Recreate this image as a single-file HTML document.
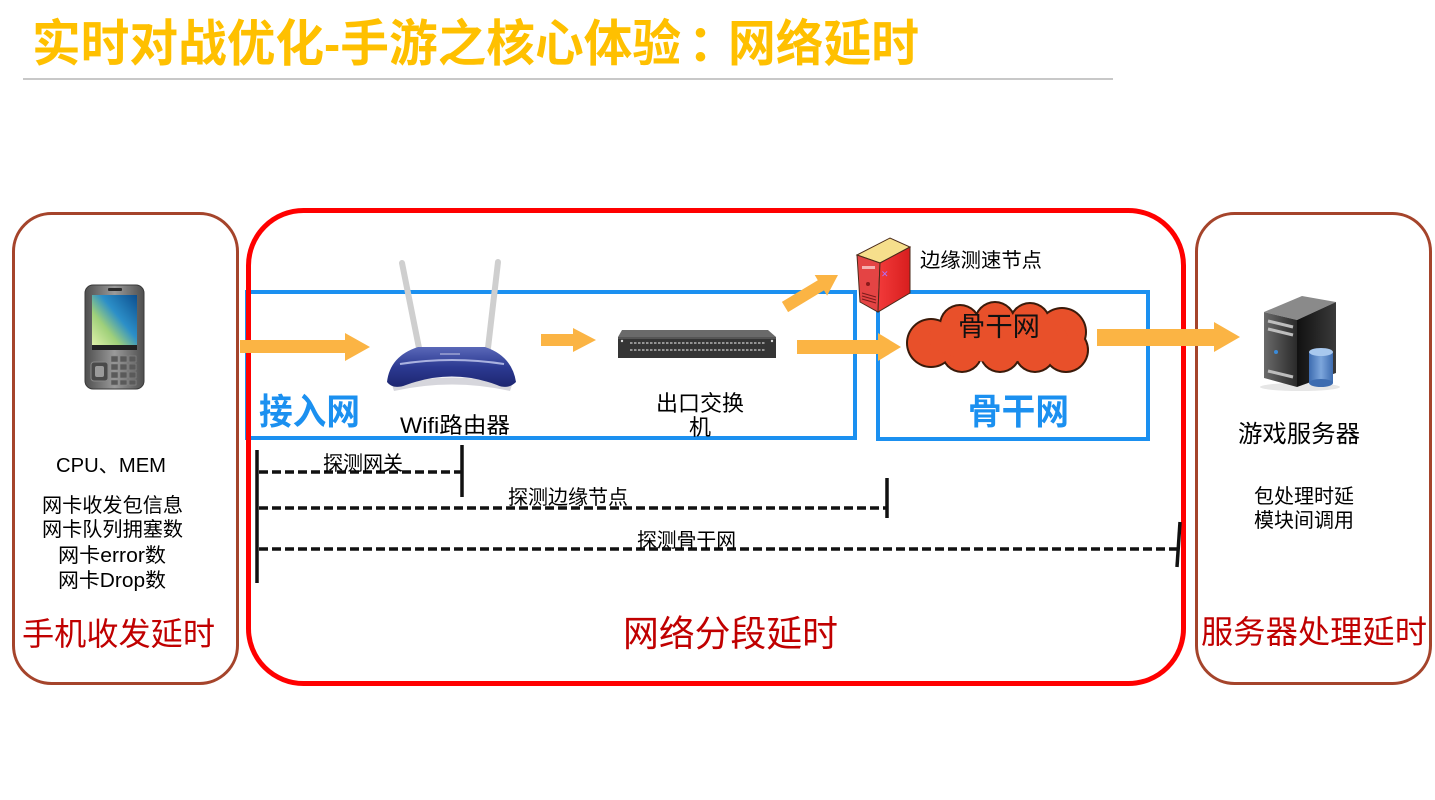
<!DOCTYPE html>
<html><head><meta charset="utf-8"><style>
html,body{margin:0;padding:0;background:#fff;}
svg{display:block;}
text{font-family:"Liberation Sans","Noto Sans CJK SC",sans-serif;}
</style></head><body>
<svg width="1435" height="800" viewBox="0 0 1435 800" xmlns="http://www.w3.org/2000/svg">
<defs>
<linearGradient id="phoneG" x1="0" x2="1" y1="0" y2="0"><stop offset="0" stop-color="#4e4e4e"/><stop offset="0.5" stop-color="#9a9a9a"/><stop offset="1" stop-color="#4e4e4e"/></linearGradient>
<linearGradient id="scr" x1="0" y1="1" x2="1" y2="0"><stop offset="0" stop-color="#e8f5b0"/><stop offset="0.35" stop-color="#9fd07a"/><stop offset="0.6" stop-color="#2c8fc8"/><stop offset="1" stop-color="#0d4f8f"/></linearGradient>
<linearGradient id="rtr" x1="0" y1="0" x2="0" y2="1"><stop offset="0" stop-color="#5a68b8"/><stop offset="0.5" stop-color="#2c3a92"/><stop offset="1" stop-color="#1d2670"/></linearGradient>
<linearGradient id="srvS" x1="0" y1="0" x2="1" y2="0"><stop offset="0" stop-color="#111"/><stop offset="1" stop-color="#3a3a3a"/></linearGradient>
<linearGradient id="srvF" x1="0" y1="0" x2="1" y2="0"><stop offset="0" stop-color="#6a6a6a"/><stop offset="1" stop-color="#2a2a2a"/></linearGradient>
<linearGradient id="cyl" x1="0" y1="0" x2="1" y2="0"><stop offset="0" stop-color="#3d6cb0"/><stop offset="0.5" stop-color="#7da6dc"/><stop offset="1" stop-color="#3d6cb0"/></linearGradient>
<linearGradient id="esR" x1="0" y1="0" x2="1" y2="0"><stop offset="0" stop-color="#f23a3a"/><stop offset="1" stop-color="#d81e1e"/></linearGradient>
</defs>
<rect width="1435" height="800" fill="#fff"/>

<!-- title -->
<text x="32" y="61" font-size="50" font-weight="bold" fill="#FFC000" textLength="649" lengthAdjust="spacingAndGlyphs">实时对战优化-手游之核心体验</text>
<text x="688" y="61" font-size="50" font-weight="bold" fill="#FFC000">：</text>
<text x="728" y="61" font-size="50" font-weight="bold" fill="#FFC000" textLength="191" lengthAdjust="spacingAndGlyphs">网络延时</text>
<rect x="23" y="78" width="1090" height="2" fill="#C8C8C8"/>

<!-- outer boxes -->
<rect x="13.5" y="213.5" width="224" height="470" rx="38" fill="none" stroke="#A5442B" stroke-width="3"/>
<rect x="1196.5" y="213.5" width="234" height="470" rx="38" fill="none" stroke="#A5442B" stroke-width="3"/>

<!-- blue boxes -->
<rect x="247" y="292" width="608" height="146" fill="none" stroke="#1B90F0" stroke-width="4"/>
<rect x="878" y="292" width="270" height="147" fill="none" stroke="#1B90F0" stroke-width="4"/>

<!-- red box -->
<rect x="248.5" y="210.5" width="935" height="473" rx="55" fill="none" stroke="#FF0000" stroke-width="5"/>

<!-- arrows -->
<g fill="#FBB444">
<polygon points="240,340 345,340 345,333 370,347 345,361 345,353 240,353"/>
<polygon points="541,334 573,334 573,328 596,340 573,352 573,346 541,346"/>
<polygon points="797,340 878,340 878,333 901,347 878,361 878,354 797,354"/>
<polygon points="1097,329 1214,329 1214,322 1240,337 1214,352 1214,346 1097,346"/>
<polygon points="781.9,301.9 817.8,280.2 814.7,275.0 838,275 827.1,295.6 824.0,290.4 788.1,312.1"/>
</g>

<!-- phone -->
<rect x="85" y="285" width="59" height="104" rx="8" fill="url(#phoneG)" stroke="#3a3a3a" stroke-width="1"/>
<rect x="108" y="288" width="14" height="3" rx="1" fill="#2a2a2a"/>
<rect x="92" y="295" width="45" height="55" fill="url(#scr)"/>
<rect x="92" y="345" width="45" height="5" fill="#222"/>
<rect x="91" y="362" width="17" height="19" rx="3" fill="#4a4a4a" stroke="#888" stroke-width="1"/>
<rect x="95" y="366" width="9" height="11" rx="2" fill="#9a9a9a"/>
<g fill="#5a5a5a" stroke="#8a8a8a" stroke-width="0.6">
<rect x="111" y="356" width="7" height="6"/><rect x="120" y="356" width="7" height="6"/><rect x="129" y="356" width="7" height="6"/>
<rect x="111" y="364" width="7" height="6"/><rect x="120" y="364" width="7" height="6"/><rect x="129" y="364" width="7" height="6"/>
<rect x="111" y="372" width="7" height="6"/><rect x="120" y="372" width="7" height="6"/><rect x="129" y="372" width="7" height="6"/>
<rect x="111" y="380" width="7" height="5"/><rect x="120" y="380" width="7" height="5"/><rect x="129" y="380" width="7" height="5"/>
</g>

<!-- router -->
<line x1="402" y1="263" x2="419" y2="348" stroke="#cfcfcf" stroke-width="6" stroke-linecap="round"/>
<line x1="498" y1="262" x2="488" y2="348" stroke="#cfcfcf" stroke-width="6" stroke-linecap="round"/>
<path d="M392,385 Q452,370 512,385 L510,391 Q452,378 394,391 Z" fill="#d6d6dc"/>
<path d="M387,382 Q390,356 418,347 L485,347 Q512,356 516,382 Q508,390 497,385 Q452,368 406,385 Q393,390 387,382 Z" fill="url(#rtr)"/>
<path d="M400,364 Q452,356 504,364" fill="none" stroke="#aab2e0" stroke-width="2"/>
<rect x="440" y="353" width="20" height="2" fill="#8890c8"/>

<!-- switch -->
<polygon points="622,330 768,330 776,337 618,337" fill="#6a6a6a"/>
<rect x="618" y="337" width="158" height="21" fill="#353535"/>
<rect x="618" y="337" width="158" height="2" fill="#555"/>
<g stroke="#cfcfcf" stroke-width="1.3" stroke-dasharray="2.5 1.5">
<line x1="630" y1="343" x2="765" y2="343"/>
<line x1="630" y1="350" x2="765" y2="350"/>
</g>
<circle cx="622" cy="341" r="1.2" fill="#ddd"/><circle cx="772" cy="341" r="1.2" fill="#ddd"/>

<!-- edge server -->
<polygon points="857,255 890,238 910,247 880,263" fill="#F6DF8C" stroke="#4a2a1a" stroke-width="1"/>
<polygon points="857,255 880,263 878,312 860,302" fill="#E44444" stroke="#4a2a1a" stroke-width="1"/>
<polygon points="880,263 910,247 910,293 878,312" fill="url(#esR)" stroke="#4a2a1a" stroke-width="1"/>
<rect x="862" y="266" width="13" height="3" fill="#f5b0b0"/>
<circle cx="868" cy="284" r="2" fill="#8a1a1a"/>
<g stroke="#7a1a1a" stroke-width="1"><line x1="862" y1="293" x2="876" y2="297"/><line x1="862" y1="296" x2="876" y2="300"/><line x1="862" y1="299" x2="876" y2="303"/></g>
<text x="881" y="277" font-size="9" fill="#b070ff">✕</text>

<!-- cloud -->
<g fill="#3a1a0a">
<circle cx="995" cy="322" r="21"/><circle cx="960" cy="325" r="21"/><circle cx="1030" cy="323" r="21"/>
<circle cx="1062" cy="332" r="25"/><circle cx="1066" cy="350" r="23"/><circle cx="1035" cy="352" r="21"/>
<circle cx="1000" cy="352" r="21"/><circle cx="962" cy="352" r="21"/><circle cx="931" cy="343" r="25"/>
</g>
<g fill="#E8502A">
<circle cx="995" cy="322" r="19"/><circle cx="960" cy="325" r="19"/><circle cx="1030" cy="323" r="19"/>
<circle cx="1062" cy="332" r="23"/><circle cx="1066" cy="350" r="21"/><circle cx="1035" cy="352" r="19"/>
<circle cx="1000" cy="352" r="19"/><circle cx="962" cy="352" r="19"/><circle cx="931" cy="343" r="23"/>
<ellipse cx="998" cy="338" rx="70" ry="24"/>
</g>
<text x="958" y="336" font-size="27" fill="#111" textLength="82" lengthAdjust="spacingAndGlyphs">骨干网</text>

<!-- game server -->
<ellipse cx="1300" cy="387" rx="40" ry="4" fill="#e6e6e6"/>
<polygon points="1264,312 1302,296 1336,302 1297,320" fill="#8a8a8a"/>
<polygon points="1264,312 1297,320 1297,387 1264,378" fill="url(#srvF)"/>
<polygon points="1297,320 1336,302 1336,373 1297,387" fill="url(#srvS)"/>
<g stroke="#bdbdbd" stroke-width="3"><line x1="1268" y1="321" x2="1293" y2="327"/><line x1="1268" y1="329" x2="1293" y2="335"/><line x1="1268" y1="371" x2="1293" y2="377"/></g>
<circle cx="1276" cy="352" r="2" fill="#3a8ad8"/>
<rect x="1309" y="352" width="24" height="31" fill="url(#cyl)"/>
<ellipse cx="1321" cy="383" rx="12" ry="4" fill="#3d6cb0"/>
<ellipse cx="1321" cy="352" rx="12" ry="4" fill="#a8c8ee"/>

<!-- labels -->
<text x="259" y="424" font-size="36" font-weight="bold" fill="#1B90F0" textLength="101" lengthAdjust="spacingAndGlyphs">接入网</text>
<text x="400" y="433" font-size="22" fill="#000" textLength="110" lengthAdjust="spacingAndGlyphs">Wifi路由器</text>
<text x="656" y="411" font-size="22" fill="#000" textLength="88" lengthAdjust="spacingAndGlyphs">出口交换</text>
<text x="700" y="435" font-size="22" fill="#000" text-anchor="middle">机</text>
<text x="920" y="267" font-size="20" fill="#000" textLength="122" lengthAdjust="spacingAndGlyphs">边缘测速节点</text>
<text x="968" y="424" font-size="36" font-weight="bold" fill="#1B90F0" textLength="101" lengthAdjust="spacingAndGlyphs">骨干网</text>
<text x="1238" y="442" font-size="24" fill="#000" textLength="122" lengthAdjust="spacingAndGlyphs">游戏服务器</text>
<text x="1254" y="503" font-size="20" fill="#000" textLength="100" lengthAdjust="spacingAndGlyphs">包处理时延</text>
<text x="1254" y="527" font-size="20" fill="#000" textLength="100" lengthAdjust="spacingAndGlyphs">模块间调用</text>

<text x="56" y="472" font-size="20" fill="#000" textLength="110" lengthAdjust="spacingAndGlyphs">CPU、MEM</text>
<text x="42" y="512" font-size="20" fill="#000" textLength="141" lengthAdjust="spacingAndGlyphs">网卡收发包信息</text>
<text x="42" y="536" font-size="20" fill="#000" textLength="141" lengthAdjust="spacingAndGlyphs">网卡队列拥塞数</text>
<text x="58" y="562" font-size="20" fill="#000" textLength="108" lengthAdjust="spacingAndGlyphs">网卡error数</text>
<text x="58" y="587" font-size="20" fill="#000" textLength="108" lengthAdjust="spacingAndGlyphs">网卡Drop数</text>

<text x="22" y="645" font-size="32" fill="#C00000" textLength="193" lengthAdjust="spacingAndGlyphs">手机收发延时</text>
<text x="623" y="646" font-size="36" fill="#C00000" textLength="215" lengthAdjust="spacingAndGlyphs">网络分段延时</text>
<text x="1201" y="643" font-size="32" fill="#C00000" textLength="226" lengthAdjust="spacingAndGlyphs">服务器处理延时</text>

<!-- probe lines -->
<g stroke="#111" stroke-width="3.5" fill="none">
<line x1="257" y1="450" x2="257" y2="583"/>
<line x1="462" y1="445" x2="462" y2="497"/>
<line x1="887" y1="478" x2="887" y2="518"/>
<line x1="1180" y1="522" x2="1177" y2="567"/>
</g>
<g stroke="#111" stroke-width="3.5" stroke-dasharray="9 4" fill="none">
<line x1="259" y1="472" x2="461" y2="472"/>
<line x1="259" y1="508" x2="886" y2="508"/>
<line x1="259" y1="549" x2="1177" y2="549"/>
</g>
<text x="323" y="470" font-size="20" fill="#000" textLength="80" lengthAdjust="spacingAndGlyphs">探测网关</text>
<text x="508" y="504" font-size="20" fill="#000" textLength="120" lengthAdjust="spacingAndGlyphs">探测边缘节点</text>
<text x="637" y="547" font-size="20" fill="#000" textLength="99" lengthAdjust="spacingAndGlyphs">探测骨干网</text>
</svg>
</body></html>
